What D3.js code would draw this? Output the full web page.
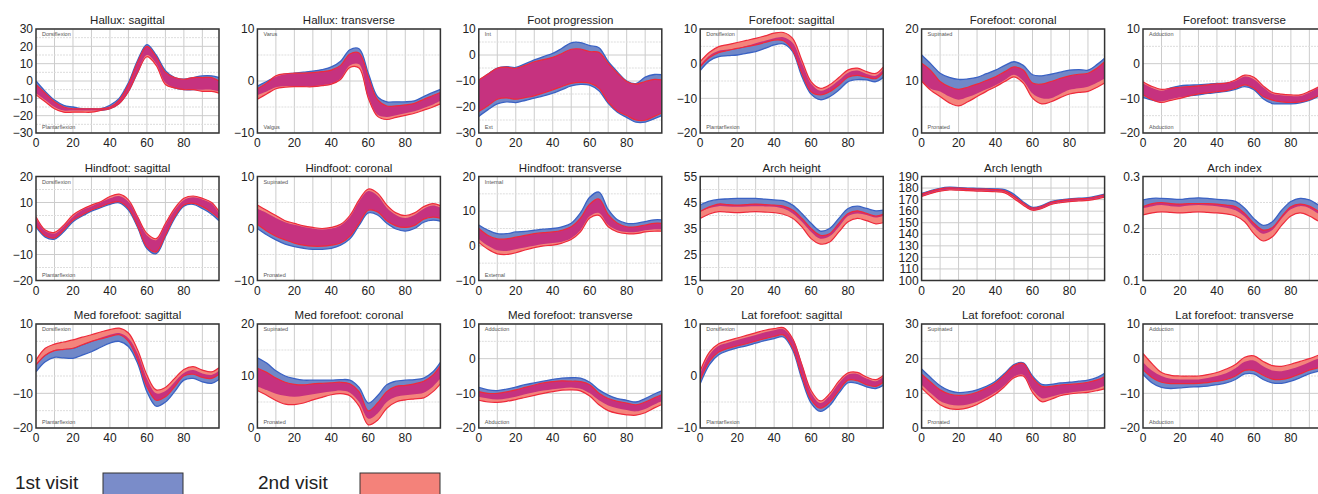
<!DOCTYPE html>
<html>
<head>
<meta charset="utf-8">
<script src="https://cdn.jsdelivr.net/npm/d3@7"></script>
<style>
body { margin: 0; background: #fff; }
svg { display: block; font-family: "Liberation Sans", Arial, sans-serif; }
</style>
</head>
<body>
<div id="chart"></div>
<script>
// Percent of the gait cycle where each value was read
const pct = [0, 5, 10, 15, 20, 25, 30, 35, 40, 45, 50, 55, 60, 65, 70, 75, 80, 85, 90, 95, 99];
const xTicks = [0, 20, 40, 60, 80];

// Hallux: sagittal
const halSagBlueHi = [0, -6, -11, -14, -15, -16, -16, -16, -14, -10, -1, 12, 21, 15, 6, 2, 1, 2, 3, 3, 2];
const halSagBlueLo = [-7, -11, -15, -17, -17, -17, -17, -17, -16, -13, -6, 5, 15, 10, -1, -4, -5, -5, -5, -5, -6];
const halSagRedHi = [-2, -7, -12, -15, -16, -16, -16, -16, -15, -11, -2, 11, 20, 14, 5, 2, 1, 2, 2, 2, 0];
const halSagRedLo = [-8, -12, -16, -18, -18, -18, -18, -17, -16, -13, -6, 5, 14, 9, -2, -4, -5, -5, -6, -6, -7];

// Hallux: transverse
const halTraBlueHi = [-1.0, -0.1, 0.8, 1.3, 1.5, 1.7, 1.9, 2.2, 2.7, 3.8, 6.0, 6.2, 1.5, -3.0, -4.0, -4.0, -4.0, -3.8, -3.0, -2.2, -1.6];
const halTraBlueLo = [-2.7, -2.0, -1.2, -1.0, -1.0, -1.0, -1.0, -0.8, -0.5, 0.5, 3.0, 3.2, -3.0, -6.5, -6.9, -6.6, -6.2, -5.8, -5.2, -4.5, -3.8];
const halTraRedHi = [-1.5, -0.4, 1.0, 1.4, 1.5, 1.5, 1.6, 1.8, 2.1, 3.0, 5.2, 5.4, 0.8, -3.6, -4.8, -4.8, -4.6, -4.3, -3.5, -2.8, -2.2];
const halTraRedLo = [-3.5, -2.5, -1.5, -1.2, -1.1, -1.1, -1.1, -0.9, -0.6, 0.3, 2.6, 2.5, -3.3, -6.8, -7.4, -7.0, -6.6, -6.2, -5.6, -5.0, -4.4];

// Foot progression
const fpBlueHi = [-9.8, -7.3, -5.0, -4.5, -4.8, -3.4, -1.9, -0.6, 0.6, 2.6, 4.7, 4.8, 3.6, 2.8, -2.5, -6.5, -10.0, -11.0, -8.5, -7.5, -7.6];
const fpBlueLo = [-23.6, -21.0, -18.8, -18.0, -18.3, -17.5, -16.6, -15.7, -14.7, -13.3, -11.9, -11.3, -11.6, -13.8, -18.6, -22.0, -24.0, -25.8, -25.8, -24.5, -23.3];
const fpRedHi = [-9.6, -7.3, -5.1, -4.7, -5.1, -4.0, -2.6, -1.8, -0.9, 0.6, 2.2, 2.3, 1.3, 1.0, -3.2, -7.0, -10.2, -11.2, -10.2, -9.4, -9.6];
const fpRedLo = [-21.7, -19.5, -17.0, -16.5, -17.0, -16.4, -15.7, -14.6, -13.4, -12.1, -10.9, -10.5, -10.8, -12.8, -18.0, -21.5, -23.3, -25.0, -25.1, -23.6, -22.3];

// Forefoot: sagittal
const ffSagBlueHi = [-0.4, 2.3, 3.7, 4.1, 4.4, 5.1, 5.9, 6.6, 7.3, 7.6, 6.0, 0.1, -5.7, -7.8, -6.8, -4.8, -2.6, -2.0, -3.0, -3.5, -1.7];
const ffSagBlueLo = [-2.0, 0.8, 2.0, 2.3, 2.5, 3.0, 3.5, 4.4, 5.4, 5.7, 3.5, -3.7, -8.8, -10.4, -9.5, -7.6, -5.2, -4.6, -4.7, -5.2, -4.0];
const ffSagRedHi = [0.6, 3.3, 4.9, 5.5, 6.1, 6.7, 7.3, 8.0, 8.8, 9.0, 7.3, 1.0, -5.2, -7.1, -6.1, -4.0, -1.8, -1.3, -2.3, -2.8, -1.0];
const ffSagRedLo = [-0.9, 1.8, 3.2, 3.8, 4.4, 4.9, 5.4, 6.1, 6.8, 6.6, 3.9, -2.8, -8.1, -9.0, -8.1, -6.2, -3.9, -3.4, -3.9, -4.3, -2.5];

// Forefoot: coronal
const ffCorBlueHi = [15.0, 13.3, 11.5, 10.7, 10.3, 10.4, 10.7, 11.4, 12.1, 13.0, 13.7, 13.0, 11.2, 11.0, 11.3, 11.7, 12.1, 12.2, 12.1, 13.2, 14.4];
const ffCorBlueLo = [10.0, 8.5, 8.0, 7.0, 6.4, 6.9, 7.6, 8.4, 9.2, 10.2, 11.2, 10.0, 7.6, 6.7, 6.7, 7.5, 8.3, 8.6, 8.9, 9.7, 10.5];
const ffCorRedHi = [13.4, 12.0, 9.9, 8.9, 8.4, 8.8, 9.4, 10.1, 10.8, 11.8, 12.7, 12.1, 9.6, 9.4, 9.9, 10.5, 11.0, 11.3, 11.5, 12.5, 13.7];
const ffCorRedLo = [10.0, 8.2, 7.0, 5.8, 5.2, 6.0, 7.0, 8.0, 8.9, 9.9, 10.8, 9.6, 6.7, 5.6, 6.0, 6.8, 7.5, 7.8, 8.0, 8.8, 9.6];

// Forefoot: transverse
const ffTraBlueHi = [-5.7, -7.0, -7.8, -7.0, -6.4, -6.2, -6.1, -5.9, -5.7, -5.6, -5.0, -3.7, -4.5, -6.8, -8.7, -9.1, -9.3, -9.3, -8.3, -6.9, -5.5];
const ffTraBlueLo = [-9.7, -10.5, -10.9, -10.3, -9.7, -9.3, -9.0, -8.6, -8.3, -8.0, -7.4, -6.6, -7.5, -10.1, -11.5, -11.6, -11.6, -11.3, -10.6, -9.4, -8.2];
const ffTraRedHi = [-5.2, -6.6, -7.4, -7.1, -6.8, -6.6, -6.4, -6.1, -5.8, -5.6, -4.7, -3.3, -3.9, -6.4, -8.3, -8.8, -9.0, -9.0, -8.0, -6.7, -5.5];
const ffTraRedLo = [-9.0, -10.4, -11.2, -10.6, -10.0, -9.3, -8.7, -8.4, -8.1, -7.8, -7.1, -6.1, -7.1, -9.5, -10.5, -11.0, -11.2, -11.0, -10.4, -9.2, -8.0];

// Hindfoot: sagittal
const hfSagBlueHi = [3.9, -1.0, -1.9, 0.9, 4.5, 7.1, 8.6, 10.0, 11.6, 12.5, 10.3, 4.1, -2.6, -4.5, 1.3, 7.1, 11.0, 12.0, 11.2, 9.6, 5.8];
const hfSagBlueLo = [0.6, -3.3, -4.1, -1.3, 2.6, 4.8, 6.7, 8.0, 9.3, 9.9, 7.1, 0.4, -7.7, -9.7, -3.2, 3.9, 8.6, 9.3, 7.7, 5.5, 3.0];
const hfSagRedHi = [4.5, -0.6, -1.5, 1.3, 5.2, 7.4, 9.0, 10.3, 12.3, 13.2, 11.0, 4.5, -1.9, -3.9, 1.9, 7.7, 11.6, 12.5, 11.6, 10.0, 6.5];
const hfSagRedLo = [1.3, -2.8, -3.6, -0.6, 3.2, 5.2, 7.1, 8.4, 9.7, 10.3, 7.7, 0.9, -7.1, -9.0, -2.6, 4.5, 9.0, 9.7, 8.4, 6.2, 3.9];

// Hindfoot: coronal
const hfCorBlueHi = [3.8, 3.0, 2.0, 1.2, 0.7, 0.3, 0.0, -0.2, 0.0, 0.6, 2.2, 5.2, 7.2, 6.3, 4.0, 2.6, 2.0, 2.6, 3.8, 4.4, 4.0];
const hfCorBlueLo = [0.0, -1.2, -2.2, -3.0, -3.5, -3.8, -4.0, -4.0, -3.8, -3.2, -2.0, 0.6, 3.0, 2.6, 1.0, -0.1, -0.5, 0.0, 1.2, 1.6, 1.4];
const hfCorRedHi = [4.5, 3.5, 2.5, 1.5, 1.0, 0.5, 0.2, 0.0, 0.2, 0.8, 2.5, 5.5, 7.6, 6.8, 4.5, 3.0, 2.5, 3.0, 4.2, 4.8, 4.4];
const hfCorRedLo = [0.8, -0.5, -1.5, -2.2, -2.8, -3.2, -3.4, -3.4, -3.2, -2.8, -1.5, 1.0, 3.5, 3.2, 1.5, 0.5, 0.2, 0.6, 1.8, 2.2, 2.0];

// Hindfoot: transverse
const hfTraBlueHi = [6, 4.5, 3.5, 3.5, 4, 4.2, 4.5, 4.8, 5, 5.5, 6.5, 9.5, 14, 15.5, 10.5, 7.5, 6.5, 6.5, 7, 7.5, 7.5];
const hfTraBlueLo = [2, 0, -1.3, -1.5, -1, -0.5, 0, 0.5, 0.8, 1.2, 2.2, 4.5, 8.5, 9.5, 6, 4.5, 4, 4, 4.5, 4.8, 4.8];
const hfTraRedHi = [5, 3, 2, 2, 2.5, 3, 3.5, 3.8, 4, 4.5, 5.5, 8, 12, 13.5, 9, 6.5, 5.5, 5.5, 6, 6.5, 6.5];
const hfTraRedLo = [1, -1, -2.3, -2.5, -2, -1.2, -0.5, 0, 0.2, 0.8, 1.8, 4, 8, 8.8, 5.5, 4, 3.5, 3.5, 4, 4.2, 4.2];

// Arch height
const ahBlueHi = [44.0, 45.5, 46.2, 46.4, 46.6, 46.6, 46.6, 46.3, 46.0, 45.7, 44.0, 40.8, 37.0, 34.0, 35.0, 38.9, 42.7, 43.6, 42.7, 41.8, 42.1];
const ahBlueLo = [41.5, 42.9, 43.6, 43.5, 43.4, 43.5, 43.6, 43.5, 43.4, 42.7, 40.8, 37.6, 33.7, 31.1, 32.0, 35.6, 39.8, 40.8, 40.2, 39.2, 39.8];
const ahRedHi = [41.5, 43.3, 44.4, 44.2, 44.0, 44.2, 44.4, 44.2, 44.0, 43.6, 42.1, 38.9, 35.0, 32.4, 33.0, 37.0, 40.8, 41.8, 40.8, 39.8, 40.5];
const ahRedLo = [38.9, 40.6, 41.5, 41.3, 41.1, 41.3, 41.5, 41.3, 41.1, 40.5, 38.9, 35.6, 31.1, 29.0, 29.8, 33.7, 37.6, 38.9, 38.0, 36.8, 37.2];

// Arch length
const alBlueHi = [175.3, 177.8, 179.8, 180.7, 180.4, 180.0, 179.7, 179.5, 179.3, 178.6, 174.5, 168.0, 163.3, 164.8, 168.3, 169.8, 170.7, 171.2, 171.7, 173.2, 174.7];
const alBlueLo = [173.3, 175.8, 177.8, 178.8, 178.6, 178.2, 177.9, 177.7, 177.4, 176.6, 171.8, 166.0, 161.3, 162.8, 166.3, 167.8, 168.8, 169.3, 169.8, 171.2, 172.7];
const alRedHi = [174.8, 177.3, 179.3, 180.2, 179.9, 179.5, 179.2, 179.0, 178.7, 177.6, 173.0, 167.0, 162.7, 164.2, 167.7, 169.2, 170.2, 170.7, 171.2, 172.7, 174.2];
const alRedLo = [172.8, 175.3, 177.3, 178.3, 178.1, 177.7, 177.4, 177.2, 176.8, 175.8, 170.8, 165.2, 160.8, 162.3, 165.8, 167.3, 168.3, 168.8, 169.3, 170.7, 172.2];

// Arch index
const aiBlueHi = [0.255, 0.258, 0.258, 0.257, 0.256, 0.258, 0.259, 0.258, 0.256, 0.255, 0.252, 0.239, 0.219, 0.206, 0.213, 0.235, 0.252, 0.258, 0.255, 0.245, 0.238];
const aiBlueLo = [0.239, 0.243, 0.245, 0.243, 0.242, 0.244, 0.245, 0.244, 0.243, 0.240, 0.235, 0.223, 0.203, 0.190, 0.197, 0.219, 0.237, 0.243, 0.239, 0.228, 0.222];
const aiRedHi = [0.242, 0.248, 0.250, 0.248, 0.247, 0.248, 0.248, 0.248, 0.247, 0.245, 0.242, 0.229, 0.210, 0.197, 0.202, 0.223, 0.242, 0.247, 0.243, 0.233, 0.226];
const aiRedLo = [0.226, 0.230, 0.232, 0.231, 0.230, 0.231, 0.232, 0.231, 0.230, 0.228, 0.224, 0.213, 0.190, 0.176, 0.184, 0.206, 0.224, 0.230, 0.224, 0.214, 0.208];

// Med forefoot: sagittal
const mfSagBlueHi = [-1.5, 1, 2.5, 2.8, 3, 4, 5, 6, 6.9, 7.4, 5.9, 1.5, -5.7, -10, -9.3, -6.7, -4.1, -3.3, -4.3, -4.7, -3.5];
const mfSagBlueLo = [-3.8, -0.9, 0.4, 0.2, 0.1, 1, 2, 3.3, 4.5, 5, 3.5, -1.4, -9.5, -13.7, -12.5, -9.5, -6.2, -5.7, -6.7, -7.1, -6];
const mfSagRedHi = [-0.4, 3, 4.2, 4.8, 5.4, 6.2, 6.9, 7.7, 8.4, 8.8, 7.4, 2.5, -4.7, -9, -8.3, -5.7, -3.1, -2.3, -3.3, -3.8, -2.6];
const mfSagRedLo = [-1.8, 1, 2.3, 2.7, 3, 4, 5, 5.7, 6.4, 6.9, 5, -0.4, -8.1, -12, -11, -8.1, -5, -4.5, -5.4, -5.7, -4.5];

// Med forefoot: coronal
const mfCorBlueHi = [13.5, 12.5, 11, 10, 9.5, 9.2, 9.2, 9.2, 9.2, 9.3, 9.2, 7.8, 4.8, 6.2, 8.3, 9, 9.2, 9.3, 9.6, 10.8, 12.6];
const mfCorBlueLo = [8, 7.3, 6.6, 6.2, 6, 6.2, 6.5, 6.8, 7, 7.2, 6.8, 5, 1.8, 2.8, 5, 6, 6.3, 6.5, 6.8, 8, 9.5];
const mfCorRedHi = [11.5, 10.7, 9.6, 8.8, 8.4, 8.3, 8.5, 8.6, 8.7, 8.8, 8.5, 7, 3.3, 4.8, 7, 8, 8.2, 8.5, 9, 10.2, 12];
const mfCorRedLo = [7.2, 6.3, 5.3, 4.6, 4.5, 4.8, 5.4, 5.9, 6.4, 6.6, 6.2, 4.2, 0.6, 1.5, 3.8, 5, 5.4, 5.6, 5.8, 7, 8.5];

// Med forefoot: transverse
const mfTraBlueHi = [-8.3, -9, -9.2, -8.8, -8.2, -7.5, -7, -6.5, -6, -5.6, -5.5, -5.6, -6.8, -9, -10.5, -11.5, -12, -12.5, -11.5, -10.2, -9.3];
const mfTraBlueLo = [-11, -11.5, -11.8, -11.5, -11, -10.3, -9.7, -9.2, -8.8, -8.5, -8.3, -8.7, -10, -12, -13.5, -14.3, -14.8, -15.2, -14.5, -13.2, -12.3];
const mfTraRedHi = [-9.5, -10, -10, -9.6, -9, -8.3, -7.6, -7, -6.6, -6.4, -6.5, -6.6, -7.5, -10, -11.5, -12.3, -12.8, -13.3, -12.5, -11.3, -10.4];
const mfTraRedLo = [-12, -12.5, -12.6, -12.3, -11.8, -11.2, -10.6, -10, -9.5, -9.1, -9, -9.3, -10.8, -13.3, -15, -15.8, -16.2, -16.3, -15.6, -14.2, -13.2];

// Lat forefoot: sagittal
const lfSagBlueHi = [0.5, 4.1, 5.8, 6.4, 6.9, 7.4, 7.9, 8.4, 8.8, 9, 7, 2, -3.2, -5.2, -3.8, -1.4, 0.3, 0.4, -0.5, -1, -0.2];
const lfSagBlueLo = [-1.5, 2.2, 4.1, 4.9, 5.4, 5.8, 6.3, 6.8, 7.2, 7.5, 5, -0.6, -5.2, -6.8, -5.7, -3.3, -1.3, -1.4, -2.1, -2.4, -1.8];
const lfSagRedHi = [1, 4.6, 6.2, 6.8, 7.3, 7.8, 8.3, 8.8, 9.1, 9.3, 7.2, 2.2, -2.8, -4.8, -3.4, -1, 0.6, 0.7, -0.2, -0.7, 0.1];
const lfSagRedLo = [-0.8, 2.8, 4.6, 5.3, 5.8, 6.2, 6.7, 7.2, 7.6, 7.9, 5.4, 0, -4.6, -6.2, -5.1, -2.8, -0.8, -0.9, -1.7, -2, -1.2];

// Lat forefoot: coronal
const lfCorBlueHi = [17, 14.5, 12.2, 10.8, 10.2, 10.4, 11, 12, 13.5, 15.8, 18.3, 18.8, 15, 12.6, 12.6, 13, 13.2, 13.5, 13.8, 14.6, 15.8];
const lfCorBlueLo = [12.5, 10, 7.8, 6.8, 6.5, 6.8, 7.6, 8.8, 10.3, 12.3, 14.8, 15.3, 11, 8.6, 9, 9.7, 10.2, 10.5, 10.8, 11.4, 12.2];
const lfCorRedHi = [15.5, 13.2, 11, 9.8, 9.4, 9.6, 10.3, 11.5, 13, 15.4, 18, 18.6, 14.5, 12, 12, 12.4, 12.6, 12.8, 13.2, 13.9, 14.8];
const lfCorRedLo = [11.5, 9, 6.7, 5.6, 5.4, 5.8, 6.8, 8.2, 9.8, 12, 14.5, 15, 10.3, 7.6, 8.3, 9.3, 9.8, 10.1, 10.3, 10.8, 11.3];

// Lat forefoot: transverse
const lfTraBlueHi = [-1, -3.5, -5, -5.8, -6, -6, -6, -5.6, -5, -4.2, -2.8, -0.9, -0.5, -2.2, -3.4, -3.6, -3, -2.1, -1, 0, 0.6];
const lfTraBlueLo = [-4.5, -7, -8.3, -8.6, -8.4, -8.2, -8.1, -7.9, -7.5, -7, -6, -4.4, -4.4, -6, -7, -7.1, -6.5, -5.5, -4.3, -3.6, -3.2];
const lfTraRedHi = [1.5, -1.5, -4, -4.8, -5, -5, -5, -4.6, -4, -3, -1.7, 0.4, 0.8, -0.8, -2, -2.2, -1.6, -0.8, 0, 1, 1.6];
const lfTraRedLo = [-3.2, -5.5, -6.8, -7.2, -7.2, -7.2, -7.1, -6.9, -6.5, -6, -5, -3.4, -3.4, -4.8, -5.9, -6, -5.4, -4.4, -3.3, -2.6, -2.2];

// Panel table built from the arrays above
const panels = [
    { title: "Hallux: sagittal", domain: [-30, 30], ticks: [-30, -20, -10, 0, 10, 20, 30], top: "Dorsiflexion", bottom: "Plantarflexion", blue: [halSagBlueLo, halSagBlueHi], red: [halSagRedLo, halSagRedHi] },
    { title: "Hallux: transverse", domain: [-10, 10], ticks: [-10, 0, 10], top: "Varus", bottom: "Valgus", blue: [halTraBlueLo, halTraBlueHi], red: [halTraRedLo, halTraRedHi] },
    { title: "Foot progression", domain: [-30, 10], ticks: [-30, -20, -10, 0, 10], top: "Int", bottom: "Ext", blue: [fpBlueLo, fpBlueHi], red: [fpRedLo, fpRedHi] },
    { title: "Forefoot: sagittal", domain: [-20, 10], ticks: [-20, -10, 0, 10], top: "Dorsiflexion", bottom: "Plantarflexion", blue: [ffSagBlueLo, ffSagBlueHi], red: [ffSagRedLo, ffSagRedHi] },
    { title: "Forefoot: coronal", domain: [0, 20], ticks: [0, 10, 20], top: "Supinated", bottom: "Pronated", blue: [ffCorBlueLo, ffCorBlueHi], red: [ffCorRedLo, ffCorRedHi] },
    { title: "Forefoot: transverse", domain: [-20, 10], ticks: [-20, -10, 0, 10], top: "Adduction", bottom: "Abduction", blue: [ffTraBlueLo, ffTraBlueHi], red: [ffTraRedLo, ffTraRedHi] },
    { title: "Hindfoot: sagittal", domain: [-20, 20], ticks: [-20, -10, 0, 10, 20], top: "Dorsiflexion", bottom: "Plantarflexion", blue: [hfSagBlueLo, hfSagBlueHi], red: [hfSagRedLo, hfSagRedHi] },
    { title: "Hindfoot: coronal", domain: [-10, 10], ticks: [-10, 0, 10], top: "Supinated", bottom: "Pronated", blue: [hfCorBlueLo, hfCorBlueHi], red: [hfCorRedLo, hfCorRedHi] },
    { title: "Hindfoot: transverse", domain: [-10, 20], ticks: [-10, 0, 10, 20], top: "Internal", bottom: "External", blue: [hfTraBlueLo, hfTraBlueHi], red: [hfTraRedLo, hfTraRedHi] },
    { title: "Arch height", domain: [15, 55], ticks: [15, 25, 35, 45, 55], blue: [ahBlueLo, ahBlueHi], red: [ahRedLo, ahRedHi] },
    { title: "Arch length", domain: [100, 190], ticks: [100, 110, 120, 130, 140, 150, 160, 170, 180, 190], noMinor: true, blue: [alBlueLo, alBlueHi], red: [alRedLo, alRedHi] },
    { title: "Arch index", domain: [0.1, 0.3], ticks: [0.1, 0.2, 0.3], fmt: ".1f", blue: [aiBlueLo, aiBlueHi], red: [aiRedLo, aiRedHi] },
    { title: "Med forefoot: sagittal", domain: [-20, 10], ticks: [-20, -10, 0, 10], top: "Dorsiflexion", bottom: "Plantarflexion", blue: [mfSagBlueLo, mfSagBlueHi], red: [mfSagRedLo, mfSagRedHi] },
    { title: "Med forefoot: coronal", domain: [0, 20], ticks: [0, 10, 20], top: "Supinated", bottom: "Pronated", blue: [mfCorBlueLo, mfCorBlueHi], red: [mfCorRedLo, mfCorRedHi] },
    { title: "Med forefoot: transverse", domain: [-20, 10], ticks: [-20, -10, 0, 10], top: "Adduction", bottom: "Abduction", blue: [mfTraBlueLo, mfTraBlueHi], red: [mfTraRedLo, mfTraRedHi] },
    { title: "Lat forefoot: sagittal", domain: [-10, 10], ticks: [-10, 0, 10], top: "Dorsiflexion", bottom: "Plantarflexion", blue: [lfSagBlueLo, lfSagBlueHi], red: [lfSagRedLo, lfSagRedHi] },
    { title: "Lat forefoot: coronal", domain: [0, 30], ticks: [0, 10, 20, 30], top: "Supinated", bottom: "Pronated", blue: [lfCorBlueLo, lfCorBlueHi], red: [lfCorRedLo, lfCorRedHi] },
    { title: "Lat forefoot: transverse", domain: [-20, 10], ticks: [-20, -10, 0, 10], top: "Adduction", bottom: "Abduction", blue: [lfTraBlueLo, lfTraBlueHi], red: [lfTraRedLo, lfTraRedHi] }
];

const legendItems = ["1st visit", "2nd visit"];

// Layout
const width = 1318;
const height = 494;
const plotW = 183;
const plotH = 104;
const colX = i => 36 + i * 221.4;
const rowY = j => 29 + j * 147.5;

const blueFill = "#7088c8", blueLine = "#3a62c4";
const redFill = "#f4847c", redLine = "#ee2a3b";
const overlapFill = "#c6327f";

const svg = d3.select("#chart").append("svg")
    .attr("width", width)
    .attr("height", height);

const x = d3.scaleLinear().domain([0, 99]).range([0, plotW]);
const curve = d3.curveCatmullRom.alpha(0.5);

panels.forEach((p, k) => {
    const col = k % 6, row = Math.floor(k / 6);
    const g = svg.append("g").attr("transform", `translate(${colX(col)},${rowY(row)})`);
    const y = d3.scaleLinear().domain(p.domain).range([plotH, 0]);
    const fmt = d3.format(p.fmt || "d");

    const defs = g.append("defs");
    defs.append("clipPath").attr("id", "plot" + k)
        .append("rect").attr("width", plotW).attr("height", plotH);

    const area = d3.area().curve(curve)
        .x((d, i) => x(pct[i]))
        .y0(d => y(d[0]))
        .y1(d => y(d[1]));
    const line = d3.line().curve(curve)
        .x((d, i) => x(pct[i]))
        .y(d => y(d));

    const blueData = pct.map((_, i) => [p.blue[0][i], p.blue[1][i]]);
    const redData = pct.map((_, i) => [p.red[0][i], p.red[1][i]]);

    defs.append("clipPath").attr("id", "blue" + k)
        .append("path").attr("d", area(blueData));

    // grid
    const grid = g.append("g");
    d3.range(10, 99, 10).forEach(v => {
        grid.append("line").attr("x1", x(v)).attr("x2", x(v)).attr("y1", 0).attr("y2", plotH)
            .attr("stroke", "#cccccc").attr("stroke-width", 1);
    });
    const step = p.ticks[1] - p.ticks[0];
    p.ticks.forEach(v => {
        grid.append("line").attr("x1", 0).attr("x2", plotW).attr("y1", y(v)).attr("y2", y(v))
            .attr("stroke", "#cccccc").attr("stroke-width", 1);
        if (!p.noMinor && v + step / 2 < p.domain[1]) {
            grid.append("line").attr("x1", 0).attr("x2", plotW)
                .attr("y1", y(v + step / 2)).attr("y2", y(v + step / 2))
                .attr("stroke", "#dddddd").attr("stroke-width", 1).attr("stroke-dasharray", "2,1");
        }
    });

    const bands = g.append("g").attr("clip-path", `url(#plot${k})`);
    bands.append("path").attr("d", area(blueData)).attr("fill", blueFill);
    bands.append("path").attr("d", line(p.blue[0])).attr("fill", "none").attr("stroke", blueLine).attr("stroke-width", 1.3);
    bands.append("path").attr("d", line(p.blue[1])).attr("fill", "none").attr("stroke", blueLine).attr("stroke-width", 1.3);
    bands.append("path").attr("d", area(redData)).attr("fill", redFill);
    bands.append("path").attr("d", area(redData)).attr("fill", overlapFill).attr("clip-path", `url(#blue${k})`);
    bands.append("path").attr("d", line(p.red[0])).attr("fill", "none").attr("stroke", redLine).attr("stroke-width", 1.2);
    bands.append("path").attr("d", line(p.red[1])).attr("fill", "none").attr("stroke", redLine).attr("stroke-width", 1.2);

    // corner labels
    if (p.top) {
        g.append("text").attr("x", 6).attr("y", 7).attr("fill", "#555")
            .style("font-size", "5.5px").text(p.top);
        g.append("text").attr("x", 6).attr("y", plotH - 4).attr("fill", "#555")
            .style("font-size", "5.5px").text(p.bottom);
    }

    // frame
    g.append("rect").attr("width", plotW).attr("height", plotH)
        .attr("fill", "none").attr("stroke", "#333").attr("stroke-width", 1.5);

    // title
    g.append("text").attr("x", plotW / 2).attr("y", -5).attr("text-anchor", "middle")
        .attr("fill", "#222").style("font-size", "11.5px").text(p.title);

    // y tick labels
    p.ticks.forEach(v => {
        g.append("text").attr("x", -3).attr("y", y(v)).attr("dy", "0.35em")
            .attr("text-anchor", "end").attr("fill", "#222").style("font-size", "12px")
            .text(fmt(v));
    });
    // x tick labels
    xTicks.forEach(v => {
        g.append("text").attr("x", x(v)).attr("y", plotH + 14)
            .attr("text-anchor", "middle").attr("fill", "#222").style("font-size", "12px")
            .text(v);
    });
});

// legend
const legendX = [15, 258];
const boxX = [103, 360];
const legendFill = ["#7a8cc9", "#f4827a"];
legendItems.forEach((t, i) => {
    svg.append("text").attr("x", legendX[i]).attr("y", 489).attr("fill", "#222")
        .style("font-size", "19px").text(t);
    svg.append("rect").attr("x", boxX[i]).attr("y", 473).attr("width", 80).attr("height", 26)
        .attr("fill", legendFill[i]).attr("stroke", "#333").attr("stroke-width", 1);
});
</script>
</body>
</html>
